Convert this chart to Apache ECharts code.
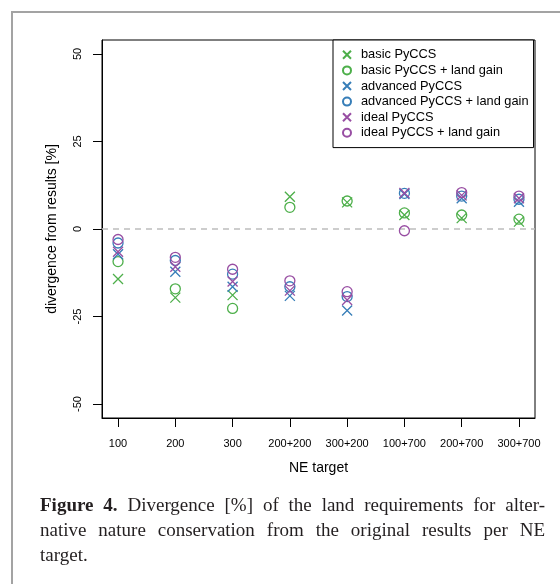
<!DOCTYPE html>
<html>
<head>
<meta charset="utf-8">
<script src="https://cdn.jsdelivr.net/npm/echarts@6/dist/echarts.min.js"></script>
<style>
html,body{margin:0;padding:0;background:#fff;}
#chart{width:560px;height:584px;}
</style>
</head>
<body>
<div id="chart"></div>
<script>
// ---- data ----
var categories = ['100','200','300','200+200','300+200','100+700','200+700','300+700'];
var yTicks = [-50, -25, 0, 25, 50];
var basicPyCCS          = [-14.3, -19.6, -18.9,   9.2,   7.6,  4.0, 3.1, 2.1];
var basicPyCCSLand      = [ -9.3, -17.1, -22.7,   6.2,   8.0,  4.6, 4.0, 2.8];
var advancedPyCCS       = [ -7.2, -12.2, -16.5, -19.1, -23.3, 10.0, 8.8, 7.8];
var advancedPyCCSLand   = [ -4.0,  -9.0, -12.9, -16.5, -19.3, 10.2, 9.4, 8.5];
var idealPyCCS          = [ -6.5, -10.8, -15.0, -17.6, -20.3, 10.3, 9.6, 8.8];
var idealPyCCSLand      = [ -3.0,  -8.1, -11.5, -14.8, -17.9, -0.5, 10.4, 9.4];
var seriesNames = ['basic PyCCS','basic PyCCS + land gain','advanced PyCCS','advanced PyCCS + land gain','ideal PyCCS','ideal PyCCS + land gain'];
var captionLines = [
  [{t:'Figure', b:true},{t:'4.', b:true},{t:'Divergence'},{t:'[%]'},{t:'of'},{t:'the'},{t:'land'},{t:'requirements'},{t:'for'},{t:'alter-'}],
  [{t:'native'},{t:'nature'},{t:'conservation'},{t:'from'},{t:'the'},{t:'original'},{t:'results'},{t:'per'},{t:'NE'}],
  [{t:'target.'}]
];

var GREEN = '#4DAF4A', BLUE = '#377EB8', PURPLE = '#984EA3';
var CROSS = 'path://M0,0L10,10M10,0L0,10';

function mk(name, vals, color, isCircle, extra) {
  var s = {
    name: name,
    type: 'scatter',
    symbol: isCircle ? 'circle' : CROSS,
    symbolSize: 10,
    symbolKeepAspect: true,
    data: vals.map(function (v, i) { return [i + 1, v]; }),
    itemStyle: { color: 'rgba(0,0,0,0)', borderColor: color, borderWidth: 1.3, opacity: 1 },
    emphasis: { disabled: true },
    z: 3
  };
  if (extra) for (var k in extra) s[k] = extra[k];
  return s;
}

// ---- caption layout (justify text) ----
var cv = document.createElement('canvas').getContext('2d');
var CAP_SIZE = 19, CAP_FAM = '"Liberation Serif", "DejaVu Serif", serif';
function fontStr(b) { return (b ? 'bold ' : '') + CAP_SIZE + 'px ' + CAP_FAM; }
var capX0 = 40, capX1 = 545, capY = [506, 531, 556];
var captionGraphics = [];
captionLines.forEach(function (line, li) {
  var widths = line.map(function (w) { cv.font = fontStr(w.b); return cv.measureText(w.t).width; });
  var total = widths.reduce(function (a, b) { return a + b; }, 0);
  var justify = li < captionLines.length - 1 && line.length > 1;
  cv.font = fontStr(false);
  var gap = justify ? (capX1 - capX0 - total) / (line.length - 1) : cv.measureText(' ').width;
  var x = capX0;
  line.forEach(function (w, i) {
    captionGraphics.push({
      type: 'text', x: x, y: capY[li], silent: true,
      style: { text: w.t, font: fontStr(w.b), fill: '#231f20', verticalAlign: 'middle', align: 'left' }
    });
    x += widths[i] + gap;
  });
});

var chart = echarts.init(document.getElementById('chart'), null, { renderer: 'canvas' });
var option = {
  animation: false,
  backgroundColor: '#fff',
  textStyle: { fontFamily: '"Liberation Sans", Arial, sans-serif' },
  grid: { left: 102, top: 40, right: 25, bottom: 166, show: true, borderColor: '#000', borderWidth: 1, containLabel: false },
  legend: {
    orient: 'vertical',
    left: 333, top: 40,
    data: seriesNames,
    itemWidth: 8, itemHeight: 8,
    itemGap: 0,
    padding: [7, 5, 7, 9],
    borderColor: '#000', borderWidth: 1,
    backgroundColor: '#fff',
    selectedMode: false,
    textStyle: { fontSize: 12.8, color: '#000', lineHeight: 15.6, padding: [0, 0, 0, 5], fontFamily: '"Liberation Sans", Arial, sans-serif' },
    z: 10
  },
  xAxis: {
    type: 'value', min: 0.72, max: 8.28,
    name: 'NE target', nameLocation: 'middle', nameGap: 43,
    nameTextStyle: { fontSize: 14, color: '#000' },
    axisLine: { show: true, onZero: false, lineStyle: { color: '#000', width: 1 } },
    axisTick: { show: true, length: 9, customValues: [1,2,3,4,5,6,7,8], lineStyle: { color: '#000', width: 1 } },
    axisLabel: { customValues: [1,2,3,4,5,6,7,8], margin: 20, fontSize: 11, color: '#000',
      formatter: function (v) { return categories[Math.round(v) - 1]; } },
    splitLine: { show: false }
  },
  yAxis: {
    type: 'value', min: -54, max: 54,
    name: 'divergence from results [%]', nameLocation: 'middle', nameGap: 43, nameRotate: 90,
    nameTextStyle: { fontSize: 14, color: '#000' },
    axisLine: { show: true, onZero: false, lineStyle: { color: '#000', width: 1 } },
    axisTick: { show: true, length: 9, customValues: yTicks, lineStyle: { color: '#000', width: 1 } },
    axisLabel: { customValues: yTicks, margin: 19, fontSize: 11, color: '#000', rotate: 90 },
    splitLine: { show: false }
  },
  series: [
    mk(seriesNames[0], basicPyCCS, GREEN, false, {
      markLine: {
        silent: true, symbol: ['none', 'none'], label: { show: false },
        lineStyle: { color: '#bdbdbd', type: [6, 5], width: 1.5 },
        data: [{ yAxis: 0 }], z: 1
      }
    }),
    mk(seriesNames[1], basicPyCCSLand, GREEN, true),
    mk(seriesNames[2], advancedPyCCS, BLUE, false),
    mk(seriesNames[3], advancedPyCCSLand, BLUE, true),
    mk(seriesNames[4], idealPyCCS, PURPLE, false),
    mk(seriesNames[5], idealPyCCSLand, PURPLE, true)
  ],
  graphic: [
    { type: 'polyline', silent: true, shape: { points: [[12, 584], [12, 12], [560, 12]] },
      style: { stroke: '#a3a3a3', lineWidth: 2, fill: null } }
  ].concat(captionGraphics)
};
chart.setOption(option);
</script>
</body>
</html>
